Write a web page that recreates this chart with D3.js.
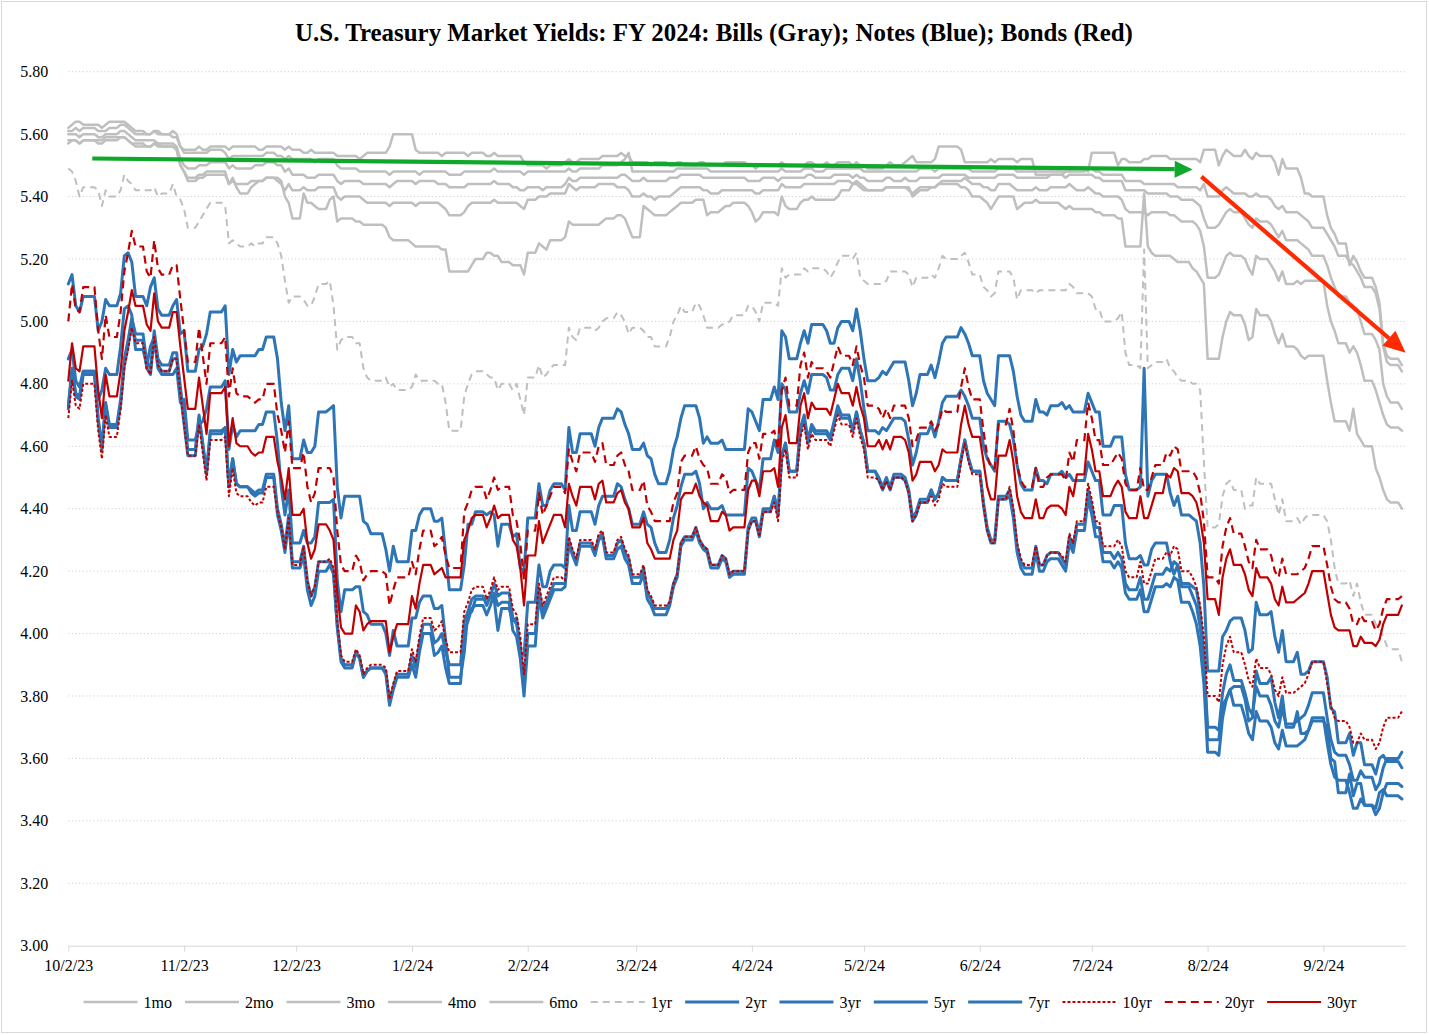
<!DOCTYPE html>
<html><head><meta charset="utf-8">
<script src="https://cdn.jsdelivr.net/npm/d3@7/dist/d3.min.js"></script>
<style>
body{margin:0;background:#fff}
svg{display:block}
text{font-family:"Liberation Serif","Times New Roman",serif;fill:#000}
</style>
</head><body>
<svg id="c" width="1429" height="1035"></svg>
<script>
// ---------------- DATA ----------------
const titleText = "U.S. Treasury Market Yields: FY 2024: Bills (Gray); Notes (Blue); Bonds (Red)";
const firstDay = "2023-10-02", lastDay = "2024-09-23", axisEnd = "2024-09-24";
const holidays = ["2023-10-09","2023-11-10","2023-11-23","2023-12-25","2024-01-01","2024-01-15",
  "2024-02-19","2024-03-29","2024-05-27","2024-06-19","2024-07-04","2024-09-02"];
const xTickDates = ["2023-10-02","2023-11-02","2023-12-02","2024-01-02","2024-02-02","2024-03-02",
  "2024-04-02","2024-05-02","2024-06-02","2024-07-02","2024-08-02","2024-09-02"];
const xTickLabels = ["10/2/23","11/2/23","12/2/23","1/2/24","2/2/24","3/2/24","4/2/24","5/2/24","6/2/24","7/2/24","8/2/24","9/2/24"];
const yTicks = [3.00,3.20,3.40,3.60,3.80,4.00,4.20,4.40,4.60,4.80,5.00,5.20,5.40,5.60,5.80];
const seriesNames = ["1mo","2mo","3mo","4mo","6mo","1yr","2yr","3yr","5yr","7yr","10yr","20yr","30yr"];

// daily yields (%), one value per trading day, grouped by week
const y1mo = [5.62,5.63,5.64,5.64,5.63, 5.63,5.62,5.63,5.64, 5.64,5.64,5.63,5.62,5.61, 5.60,5.60,5.61,5.61,5.60, 5.61,5.60,5.56,5.55,5.55,
 5.56,5.55,5.55,5.56, 5.56,5.55,5.56,5.56,5.56, 5.56,5.56,5.55,5.56, 5.56,5.56,5.55,5.56,5.55,
 5.54,5.54,5.55,5.54,5.54, 5.54,5.54,5.53,5.53,5.53, 5.53,5.52,5.53,5.54,5.54, 5.54,5.56,5.60,5.60,
 5.60,5.55,5.54,5.54, 5.54,5.54,5.53,5.54,5.54, 5.54,5.53,5.54,5.54, 5.53,5.53,5.54,5.53,5.53, 5.53,5.53,5.53,5.51,5.50,
 5.50,5.50,5.49,5.50,5.50, 5.51,5.52,5.51,5.51,5.52, 5.52,5.52,5.53,5.53, 5.53,5.54,5.53,5.53,5.51,
 5.51,5.51,5.50,5.51,5.51, 5.50,5.50,5.51,5.51,5.50, 5.50,5.51,5.51,5.50,5.50, 5.50,5.51,5.51,5.51,
 5.50,5.50,5.49,5.50,5.50, 5.50,5.50,5.51,5.50,5.50, 5.50,5.50,5.51,5.51,5.50, 5.51,5.50,5.50,5.51,5.51, 5.50,5.51,5.50,5.50,5.49,
 5.49,5.49,5.50,5.51,5.50, 5.51,5.52,5.53,5.51,5.51, 5.51,5.52,5.56,5.56,5.56, 5.55,5.51,5.51,5.51,
 5.51,5.51,5.52,5.51,5.52, 5.52,5.52,5.51,5.52,5.52, 5.47,5.47,5.47,5.47, 5.47,5.48,5.48,5.49,5.49,
 5.48,5.54,5.54,5.54, 5.54,5.50,5.52,5.52,5.51, 5.51,5.52,5.52,5.53,5.53, 5.53,5.52,5.52,5.52,5.52, 5.52,5.52,5.51,5.55,5.55,
 5.50,5.53,5.55,5.54,5.53, 5.55,5.53,5.52,5.54,5.53, 5.53,5.51,5.47,5.52,5.49, 5.49,5.46,5.41,5.41,5.40,
 5.34,5.30,5.28,5.25, 5.18,5.21,5.19,5.16,5.14, 5.11,5.06,4.93,4.89,4.88, 4.86];
const y2mo = [5.61,5.61,5.62,5.61,5.62, 5.61,5.61,5.61,5.62, 5.63,5.63,5.62,5.61,5.60, 5.60,5.60,5.61,5.60,5.60, 5.59,5.59,5.56,5.54,5.54,
 5.54,5.54,5.54,5.55, 5.54,5.52,5.53,5.53,5.53, 5.53,5.53,5.53,5.54, 5.53,5.53,5.52,5.53,5.52,
 5.52,5.52,5.52,5.51,5.52, 5.52,5.52,5.50,5.49,5.49, 5.49,5.48,5.48,5.48,5.48, 5.48,5.47,5.48,5.48,
 5.48,5.48,5.47,5.48, 5.48,5.48,5.48,5.48,5.47, 5.48,5.48,5.48,5.48, 5.48,5.48,5.49,5.48,5.48, 5.48,5.48,5.48,5.47,5.48,
 5.48,5.48,5.48,5.48,5.48, 5.48,5.49,5.48,5.48,5.49, 5.49,5.49,5.50,5.50, 5.50,5.51,5.52,5.54,5.48,
 5.48,5.48,5.48,5.48,5.48, 5.48,5.48,5.49,5.49,5.49, 5.49,5.49,5.49,5.49,5.48, 5.48,5.48,5.48,5.48,
 5.48,5.48,5.48,5.48,5.48, 5.48,5.48,5.49,5.48,5.48, 5.48,5.49,5.49,5.49,5.48, 5.49,5.49,5.49,5.49,5.49, 5.49,5.49,5.49,5.48,5.48,
 5.48,5.48,5.48,5.48,5.48, 5.48,5.48,5.48,5.48,5.49, 5.49,5.48,5.49,5.49,5.49, 5.49,5.49,5.49,5.48,
 5.48,5.48,5.48,5.48,5.49, 5.49,5.49,5.48,5.48,5.48, 5.48,5.48,5.48,5.48, 5.48,5.48,5.48,5.48,5.48,
 5.49,5.49,5.48,5.47, 5.47,5.47,5.47,5.45,5.45, 5.45,5.44,5.44,5.44,5.44, 5.44,5.44,5.44,5.43,5.43, 5.43,5.43,5.42,5.44,5.40,
 5.40,5.42,5.43,5.42,5.41, 5.41,5.40,5.40,5.41,5.40, 5.39,5.37,5.36,5.37,5.35, 5.35,5.34,5.33,5.32,5.30,
 5.28,5.26,5.24,5.21, 5.19,5.18,5.16,5.14,5.11, 5.09,5.04,4.92,4.87,4.86, 4.84];
const y3mo = [5.60,5.60,5.60,5.59,5.60, 5.59,5.59,5.60,5.60, 5.61,5.61,5.60,5.59,5.58, 5.58,5.58,5.58,5.57,5.57, 5.57,5.56,5.52,5.50,5.49,
 5.50,5.50,5.50,5.51, 5.51,5.49,5.50,5.49,5.49, 5.49,5.50,5.50,5.51, 5.50,5.50,5.48,5.49,5.47,
 5.47,5.46,5.46,5.46,5.47, 5.47,5.47,5.45,5.44,5.45, 5.45,5.45,5.44,5.44,5.44, 5.44,5.43,5.44,5.45,
 5.45,5.44,5.45,5.45, 5.45,5.44,5.44,5.44,5.43, 5.43,5.44,5.44,5.44, 5.44,5.44,5.45,5.44,5.44, 5.43,5.43,5.42,5.42,5.43,
 5.43,5.42,5.43,5.43,5.43, 5.44,5.46,5.45,5.45,5.46, 5.46,5.46,5.46,5.46, 5.46,5.47,5.47,5.46,5.45,
 5.46,5.45,5.45,5.45,5.45, 5.46,5.46,5.46,5.47,5.47, 5.47,5.47,5.46,5.46,5.46, 5.46,5.46,5.46,5.46,
 5.45,5.45,5.45,5.45,5.46, 5.46,5.45,5.46,5.46,5.46, 5.46,5.46,5.47,5.47,5.46, 5.46,5.46,5.47,5.47,5.47, 5.46,5.47,5.46,5.46,5.45,
 5.45,5.45,5.46,5.46,5.45, 5.46,5.45,5.45,5.45,5.46, 5.46,5.46,5.46,5.47,5.47, 5.47,5.47,5.46,5.46,
 5.46,5.46,5.46,5.46,5.47, 5.47,5.47,5.46,5.46,5.46, 5.46,5.46,5.46,5.47, 5.47,5.46,5.47,5.47,5.47,
 5.47,5.47,5.46,5.45, 5.45,5.45,5.45,5.42,5.42, 5.42,5.42,5.41,5.41,5.41, 5.41,5.40,5.40,5.40,5.39, 5.39,5.38,5.37,5.33,5.30,
 5.31,5.33,5.35,5.36,5.35, 5.33,5.31,5.30,5.33,5.32, 5.31,5.29,5.27,5.29,5.26, 5.26,5.25,5.24,5.23,5.21,
 5.18,5.14,5.11,5.08, 5.06,5.05,5.04,5.00,4.96, 4.94,4.91,4.80,4.76,4.74, 4.72];
const y4mo = [5.58,5.58,5.58,5.57,5.58, 5.57,5.57,5.58,5.58, 5.59,5.59,5.58,5.57,5.57, 5.56,5.56,5.57,5.56,5.56, 5.56,5.55,5.50,5.48,5.46,
 5.47,5.47,5.48,5.48, 5.48,5.44,5.45,5.44,5.44, 5.45,5.45,5.45,5.46, 5.45,5.44,5.42,5.44,5.42,
 5.43,5.42,5.42,5.42,5.43, 5.43,5.43,5.40,5.39,5.40, 5.40,5.40,5.39,5.38,5.38, 5.38,5.37,5.38,5.38,
 5.38,5.37,5.38,5.38, 5.38,5.38,5.37,5.36,5.34, 5.35,5.37,5.38,5.38, 5.38,5.38,5.39,5.38,5.38, 5.38,5.38,5.37,5.36,5.39,
 5.40,5.40,5.40,5.41,5.41, 5.41,5.44,5.43,5.42,5.43, 5.43,5.44,5.44,5.44, 5.43,5.43,5.43,5.42,5.40,
 5.41,5.40,5.40,5.39,5.40, 5.40,5.41,5.42,5.43,5.43, 5.43,5.43,5.42,5.42,5.41, 5.42,5.42,5.42,5.42,
 5.42,5.42,5.41,5.41,5.42, 5.42,5.42,5.44,5.43,5.43, 5.43,5.44,5.44,5.44,5.44, 5.44,5.44,5.44,5.45,5.45, 5.44,5.45,5.44,5.43,5.42,
 5.42,5.42,5.43,5.43,5.43, 5.43,5.42,5.41,5.42,5.43, 5.43,5.43,5.44,5.45,5.45, 5.45,5.46,5.45,5.44,
 5.43,5.43,5.42,5.42,5.44, 5.44,5.43,5.42,5.42,5.42, 5.43,5.42,5.42,5.43, 5.43,5.43,5.44,5.43,5.42,
 5.43,5.42,5.41,5.40, 5.40,5.40,5.39,5.36,5.35, 5.35,5.35,5.34,5.35,5.35, 5.35,5.34,5.34,5.33,5.32, 5.32,5.31,5.29,5.24,5.14,
 5.15,5.18,5.21,5.22,5.21, 5.20,5.17,5.15,5.21,5.20, 5.18,5.16,5.13,5.16,5.12, 5.13,5.12,5.13,5.13,5.13,
 5.05,5.00,4.97,4.93, 4.90,4.92,4.90,4.86,4.81, 4.78,4.74,4.70,4.67,4.66, 4.65];
const y6mo = [5.57,5.58,5.58,5.57,5.58, 5.58,5.58,5.59,5.59, 5.59,5.59,5.58,5.57,5.56, 5.56,5.56,5.57,5.57,5.56, 5.56,5.55,5.50,5.48,5.45,
 5.46,5.46,5.47,5.47, 5.47,5.44,5.46,5.43,5.41, 5.43,5.44,5.45,5.46, 5.46,5.45,5.40,5.38,5.33,
 5.41,5.38,5.38,5.37,5.36, 5.39,5.40,5.32,5.33,5.33, 5.32,5.32,5.31,5.31,5.31, 5.30,5.27,5.26,5.26,
 5.25,5.24,5.24,5.24, 5.24,5.24,5.23,5.23,5.16, 5.16,5.16,5.18,5.20, 5.22,5.22,5.21,5.21,5.19, 5.18,5.18,5.18,5.15,5.22,
 5.25,5.24,5.23,5.26,5.26, 5.27,5.32,5.31,5.31,5.31, 5.31,5.31,5.32,5.33, 5.34,5.34,5.33,5.30,5.27,
 5.37,5.36,5.35,5.34,5.34, 5.35,5.36,5.37,5.38,5.38, 5.39,5.39,5.39,5.34,5.35, 5.36,5.37,5.37,5.38,
 5.37,5.35,5.32,5.33,5.35, 5.35,5.34,5.40,5.37,5.36, 5.38,5.39,5.39,5.40,5.39, 5.39,5.39,5.39,5.40,5.42, 5.44,5.44,5.43,5.42,5.42,
 5.42,5.42,5.43,5.43,5.43, 5.43,5.43,5.40,5.41,5.42, 5.43,5.43,5.44,5.44,5.44, 5.43,5.43,5.42,5.40,
 5.39,5.38,5.36,5.38,5.40, 5.40,5.40,5.36,5.37,5.38, 5.39,5.38,5.38,5.38, 5.37,5.36,5.37,5.36,5.36,
 5.36,5.36,5.35,5.34, 5.34,5.33,5.33,5.24,5.24, 5.24,5.41,5.24,5.22,5.21, 5.21,5.21,5.20,5.19,5.19, 5.17,5.16,5.14,5.12,4.88,
 4.88,4.95,5.00,5.03,5.02, 4.99,4.94,4.95,5.04,5.02, 5.00,4.96,4.93,4.96,4.92, 4.91,4.89,4.88,4.89,4.89,
 4.81,4.74,4.68,4.68, 4.65,4.72,4.64,4.62,4.60, 4.53,4.50,4.46,4.43,4.42, 4.40];
const y1yr = [5.49,5.48,5.45,5.40,5.43, 5.42,5.37,5.42,5.40, 5.42,5.47,5.45,5.44,5.42, 5.42,5.42,5.43,5.40,5.41, 5.44,5.40,5.39,5.36,5.30,
 5.32,5.34,5.36,5.38, 5.37,5.25,5.26,5.25,5.24, 5.25,5.24,5.25,5.27, 5.25,5.21,5.13,5.06,5.08,
 5.07,5.05,5.05,5.08,5.12, 5.13,5.05,4.91,4.94,4.95, 4.93,4.93,4.85,4.82,4.81, 4.82,4.79,4.80,4.78,
 4.79,4.83,4.81,4.81, 4.81,4.80,4.80,4.74,4.65, 4.76,4.80,4.83,4.84, 4.83,4.82,4.82,4.78,4.80, 4.78,4.80,4.75,4.70,4.82,
 4.86,4.82,4.83,4.85,4.86, 4.86,4.98,4.95,4.94,4.98, 4.97,4.98,5.00,5.01, 5.03,5.02,5.00,4.96,4.98,
 4.97,4.95,4.95,4.92,4.92, 4.95,5.00,5.02,5.05,5.03, 5.06,5.05,5.02,4.98,4.98, 4.99,4.99,5.00,5.02,
 5.05,5.05,5.03,5.00,5.06, 5.06,5.05,5.17,5.14,5.15, 5.15,5.17,5.16,5.17,5.17, 5.16,5.14,5.16,5.19,5.21, 5.20,5.22,5.14,5.13,5.12,
 5.12,5.12,5.13,5.16,5.16, 5.16,5.15,5.11,5.14,5.14, 5.15,5.14,5.17,5.21,5.20, 5.21,5.22,5.19,5.15,
 5.11,5.10,5.08,5.09,5.16, 5.16,5.14,5.07,5.10,5.10, 5.09,5.10,5.10,5.10, 5.10,5.10,5.12,5.11,5.09,
 5.09,5.08,5.04,5.00, 5.00,5.01,5.03,4.90,4.86, 4.85,5.23,4.85,4.86,4.87, 4.88,4.85,4.84,4.82,4.81, 4.80,4.80,4.78,4.55,4.34,
 4.35,4.44,4.48,4.49,4.46, 4.40,4.41,4.41,4.50,4.48, 4.48,4.43,4.38,4.43,4.36, 4.37,4.35,4.37,4.38,4.38,
 4.36,4.30,4.21,4.16, 4.17,4.12,4.16,4.10,4.06, 4.03,4.02,3.99,3.96,3.95, 3.91];
const y2yr = [5.12,5.15,5.05,5.03,5.08, 4.97,5.00,5.07,5.05, 5.09,5.21,5.22,5.19,5.08, 5.05,5.11,5.14,5.04,5.02, 5.05,5.07,4.96,4.97,4.84,
 4.91,4.92,4.96,5.03, 5.05,4.83,4.91,4.87,4.89, 4.89,4.89,4.91,4.95, 4.88,4.74,4.65,4.73,4.56,
 4.62,4.58,4.58,4.60,4.71, 4.72,4.73,4.47,4.37,4.44, 4.44,4.44,4.36,4.35,4.32, 4.27,4.20,4.28,4.23,
 4.33,4.33,4.38,4.40, 4.36,4.36,4.37,4.26,4.14, 4.22,4.35,4.35,4.39, 4.38,4.39,4.38,4.28,4.35, 4.31,4.32,4.21,4.20,4.37,
 4.48,4.41,4.41,4.46,4.48, 4.46,4.66,4.58,4.58,4.64, 4.60,4.66,4.69,4.69, 4.72,4.71,4.67,4.64,4.59,
 4.61,4.57,4.56,4.51,4.48, 4.52,4.59,4.63,4.69,4.73, 4.73,4.69,4.61,4.63,4.61, 4.62,4.59,4.59,4.59,
 4.72,4.71,4.68,4.65,4.75, 4.79,4.75,4.97,4.95,4.88, 4.93,4.97,4.93,4.99,4.99, 4.97,4.93,4.93,4.98,5.00, 4.97,5.04,4.97,4.88,4.81,
 4.82,4.84,4.83,4.85,4.87, 4.87,4.81,4.73,4.77,4.83, 4.86,4.82,4.87,4.93,4.95, 4.98,4.96,4.93,4.89,
 4.81,4.77,4.75,4.73,4.89, 4.89,4.84,4.76,4.70,4.68, 4.75,4.71,4.70,4.73, 4.74,4.72,4.73,4.71,4.71,
 4.77,4.74,4.71,4.60, 4.63,4.63,4.63,4.51,4.46, 4.47,4.85,4.44,4.49,4.51, 4.51,4.45,4.41,4.44,4.38, 4.37,4.36,4.29,4.15,3.88,
 3.88,3.99,4.01,4.04,4.05, 4.01,3.94,3.95,4.10,4.06, 4.07,3.99,3.94,4.01,3.91, 3.94,3.87,3.87,3.88,3.91,
 3.86,3.76,3.75,3.65, 3.68,3.61,3.65,3.65,3.58, 3.55,3.60,3.61,3.59,3.59, 3.57];
const y3yr = [4.88,4.91,4.81,4.79,4.84, 4.75,4.78,4.85,4.83, 4.92,5.04,5.05,5.02,4.91, 4.86,4.92,4.95,4.85,4.83, 4.83,4.85,4.74,4.75,4.62,
 4.67,4.68,4.72,4.79, 4.81,4.59,4.67,4.63,4.65, 4.65,4.65,4.67,4.71, 4.61,4.47,4.38,4.46,4.29,
 4.33,4.29,4.29,4.31,4.42, 4.42,4.43,4.17,4.07,4.14, 4.15,4.15,4.07,4.06,4.03, 4.00,3.93,4.01,3.96,
 4.05,4.05,4.10,4.12, 4.08,4.08,4.09,3.98,3.86, 3.94,4.07,4.07,4.11, 4.11,4.12,4.11,4.01,4.08, 4.04,4.05,3.94,3.93,4.10,
 4.22,4.15,4.15,4.20,4.22, 4.21,4.41,4.33,4.33,4.39, 4.35,4.41,4.44,4.44, 4.48,4.47,4.43,4.40,4.35,
 4.39,4.35,4.34,4.29,4.26, 4.30,4.37,4.41,4.47,4.51, 4.52,4.48,4.40,4.42,4.40, 4.41,4.38,4.38,4.38,
 4.53,4.52,4.49,4.46,4.56, 4.62,4.58,4.80,4.78,4.71, 4.77,4.81,4.77,4.83,4.83, 4.82,4.78,4.78,4.83,4.85, 4.81,4.88,4.81,4.72,4.65,
 4.64,4.66,4.65,4.67,4.69, 4.68,4.62,4.54,4.58,4.64, 4.67,4.63,4.68,4.74,4.76, 4.78,4.76,4.73,4.69,
 4.60,4.56,4.54,4.52,4.68, 4.67,4.62,4.54,4.48,4.46, 4.53,4.49,4.48,4.51, 4.52,4.50,4.51,4.49,4.49,
 4.55,4.52,4.49,4.38, 4.41,4.41,4.41,4.29,4.24, 4.25,4.22,4.22,4.27,4.29, 4.29,4.23,4.19,4.22,4.16, 4.15,4.14,4.07,3.93,3.66,
 3.66,3.77,3.79,3.82,3.83, 3.79,3.72,3.73,3.88,3.84, 3.86,3.78,3.73,3.80,3.70, 3.75,3.68,3.68,3.69,3.72,
 3.70,3.60,3.59,3.49, 3.55,3.48,3.52,3.52,3.45, 3.44,3.49,3.50,3.48,3.48, 3.47];
const y5yr = [4.72,4.84,4.76,4.75,4.83, 4.68,4.59,4.73,4.66, 4.73,4.86,4.92,4.99,4.94, 4.85,4.83,4.95,4.86,4.84, 4.88,4.88,4.77,4.67,4.57,
 4.69,4.60,4.51,4.64, 4.66,4.47,4.56,4.48,4.47, 4.45,4.44,4.45,4.50, 4.38,4.33,4.26,4.36,4.21,
 4.25,4.14,4.09,4.12,4.20, 4.22,4.19,4.02,3.91,3.89, 3.94,3.92,3.86,3.88,3.89, 3.87,3.77,3.82,3.86,
 3.90,3.86,3.94,4.00, 3.93,3.94,3.96,3.89,3.84, 4.01,4.04,4.08,4.09, 4.06,4.09,4.13,4.09,4.10, 4.01,3.99,3.92,3.80,3.96,
 4.12,4.05,4.08,4.11,4.14, 4.15,4.29,4.25,4.22,4.28, 4.25,4.30,4.31,4.24, 4.27,4.28,4.24,4.22,4.16,
 4.19,4.11,4.09,4.06,4.06, 4.09,4.15,4.18,4.28,4.30, 4.33,4.29,4.27,4.26,4.21, 4.24,4.23,4.18,4.19,
 4.33,4.36,4.36,4.31,4.39, 4.44,4.38,4.57,4.61,4.52, 4.66,4.70,4.62,4.67,4.65, 4.65,4.63,4.68,4.73,4.70, 4.65,4.71,4.65,4.61,4.52,
 4.49,4.46,4.49,4.46,4.50, 4.49,4.45,4.36,4.38,4.42, 4.46,4.43,4.45,4.50,4.49, 4.56,4.62,4.56,4.52,
 4.41,4.33,4.29,4.29,4.43, 4.44,4.37,4.26,4.21,4.19, 4.26,4.20,4.23,4.24, 4.22,4.20,4.29,4.26,4.33,
 4.43,4.38,4.31,4.23, 4.21,4.23,4.21,4.13,4.11, 4.14,4.07,4.07,4.11,4.15, 4.16,4.15,4.18,4.17,4.10, 4.07,4.03,3.96,3.84,3.62,
 3.61,3.73,3.79,3.82,3.77, 3.73,3.68,3.66,3.75,3.72, 3.70,3.65,3.63,3.69,3.64, 3.64,3.65,3.66,3.69,3.73,
 3.65,3.58,3.54,3.53, 3.49,3.44,3.44,3.47,3.45, 3.42,3.44,3.49,3.52,3.52, 3.51];
const y7yr = [4.73,4.85,4.77,4.76,4.84, 4.69,4.60,4.74,4.67, 4.75,4.88,4.94,5.01,4.96, 4.87,4.85,4.97,4.88,4.86, 4.90,4.90,4.79,4.69,4.59,
 4.70,4.61,4.52,4.65, 4.66,4.47,4.56,4.48,4.47, 4.46,4.45,4.46,4.51, 4.40,4.35,4.28,4.38,4.23,
 4.28,4.17,4.12,4.15,4.23, 4.23,4.20,4.03,3.92,3.90, 3.94,3.92,3.86,3.88,3.89, 3.88,3.78,3.83,3.87,
 3.93,3.89,3.97,4.03, 3.97,3.98,4.00,3.94,3.90, 4.04,4.07,4.11,4.12, 4.09,4.12,4.16,4.12,4.13, 4.05,4.03,3.96,3.84,4.00,
 4.14,4.07,4.10,4.13,4.16, 4.16,4.30,4.26,4.23,4.29, 4.26,4.31,4.32,4.25, 4.29,4.30,4.26,4.24,4.18,
 4.21,4.13,4.11,4.08,4.08, 4.10,4.16,4.19,4.29,4.31, 4.34,4.30,4.28,4.27,4.22, 4.25,4.24,4.19,4.20,
 4.34,4.37,4.37,4.32,4.40, 4.44,4.38,4.57,4.61,4.52, 4.65,4.69,4.61,4.66,4.64, 4.64,4.62,4.67,4.72,4.69, 4.65,4.71,4.65,4.61,4.52,
 4.50,4.47,4.50,4.47,4.51, 4.50,4.46,4.37,4.39,4.43, 4.46,4.43,4.45,4.50,4.49, 4.56,4.62,4.56,4.52,
 4.42,4.34,4.30,4.30,4.44, 4.46,4.39,4.28,4.23,4.21, 4.28,4.22,4.25,4.26, 4.24,4.22,4.31,4.28,4.35,
 4.46,4.41,4.34,4.26, 4.24,4.26,4.24,4.16,4.14, 4.18,4.11,4.11,4.15,4.19, 4.21,4.20,4.23,4.22,4.15, 4.12,4.09,4.02,3.91,3.70,
 3.69,3.81,3.87,3.90,3.85, 3.81,3.76,3.74,3.83,3.80, 3.77,3.72,3.70,3.76,3.71, 3.72,3.73,3.74,3.77,3.81,
 3.73,3.66,3.62,3.61, 3.58,3.53,3.53,3.56,3.54, 3.50,3.52,3.57,3.60,3.60, 3.62];
const y10yr = [4.69,4.81,4.73,4.72,4.80, 4.65,4.56,4.70,4.63, 4.72,4.85,4.91,4.98,4.93, 4.85,4.83,4.95,4.86,4.84, 4.88,4.88,4.77,4.67,4.57,
 4.67,4.58,4.49,4.62, 4.63,4.44,4.53,4.45,4.44, 4.42,4.41,4.42,4.47, 4.39,4.34,4.27,4.37,4.22,
 4.28,4.17,4.12,4.15,4.23, 4.24,4.21,4.04,3.93,3.91, 3.95,3.93,3.87,3.89,3.90, 3.89,3.79,3.84,3.88,
 3.95,3.91,3.99,4.05, 4.01,4.02,4.04,3.98,3.94, 4.07,4.10,4.14,4.15, 4.11,4.14,4.18,4.14,4.15, 4.08,4.06,3.99,3.87,4.03,
 4.16,4.09,4.12,4.15,4.18, 4.17,4.31,4.27,4.24,4.30, 4.27,4.32,4.33,4.26, 4.30,4.31,4.27,4.25,4.19,
 4.22,4.14,4.12,4.09,4.09, 4.10,4.16,4.19,4.29,4.31, 4.34,4.30,4.28,4.27,4.22, 4.25,4.24,4.19,4.20,
 4.33,4.36,4.36,4.31,4.39, 4.42,4.36,4.55,4.59,4.50, 4.63,4.67,4.59,4.64,4.62, 4.62,4.60,4.65,4.70,4.67, 4.63,4.69,4.63,4.59,4.50,
 4.49,4.46,4.49,4.46,4.50, 4.49,4.45,4.36,4.38,4.42, 4.44,4.41,4.43,4.48,4.47, 4.55,4.61,4.55,4.51,
 4.41,4.33,4.29,4.29,4.43, 4.47,4.40,4.29,4.24,4.22, 4.28,4.22,4.25,4.26, 4.25,4.23,4.32,4.29,4.36,
 4.48,4.43,4.36,4.28, 4.28,4.30,4.28,4.20,4.18, 4.23,4.16,4.16,4.20,4.24, 4.26,4.25,4.28,4.27,4.20, 4.18,4.15,4.09,3.99,3.80,
 3.78,3.90,3.96,3.99,3.94, 3.90,3.85,3.83,3.92,3.89, 3.87,3.82,3.80,3.86,3.81, 3.82,3.83,3.84,3.87,3.91,
 3.84,3.77,3.73,3.72, 3.70,3.65,3.65,3.68,3.66, 3.63,3.65,3.70,3.73,3.73, 3.75];
const y20yr = [5.00,5.12,5.04,5.03,5.11, 4.97,4.88,5.02,4.95, 5.03,5.16,5.22,5.29,5.24, 5.16,5.14,5.26,5.17,5.15, 5.18,5.18,5.07,4.97,4.87,
 4.98,4.89,4.80,4.93, 4.95,4.76,4.85,4.77,4.76, 4.75,4.74,4.75,4.80, 4.70,4.65,4.58,4.68,4.53,
 4.58,4.47,4.42,4.45,4.53, 4.53,4.50,4.33,4.22,4.20, 4.25,4.23,4.17,4.19,4.20, 4.19,4.09,4.14,4.18,
 4.23,4.19,4.27,4.33, 4.28,4.29,4.31,4.25,4.21, 4.39,4.42,4.46,4.47, 4.43,4.46,4.50,4.46,4.47, 4.38,4.36,4.29,4.17,4.33,
 4.45,4.38,4.41,4.44,4.47, 4.45,4.59,4.55,4.52,4.58, 4.55,4.60,4.61,4.54, 4.57,4.58,4.54,4.52,4.46,
 4.49,4.41,4.39,4.36,4.36, 4.36,4.42,4.45,4.55,4.57, 4.60,4.56,4.54,4.53,4.48, 4.51,4.50,4.45,4.46,
 4.58,4.61,4.61,4.56,4.64, 4.65,4.59,4.78,4.82,4.73, 4.86,4.90,4.82,4.87,4.85, 4.84,4.82,4.87,4.92,4.89, 4.86,4.92,4.86,4.82,4.73,
 4.72,4.69,4.72,4.69,4.73, 4.73,4.69,4.60,4.62,4.66, 4.68,4.65,4.67,4.72,4.71, 4.79,4.85,4.79,4.75,
 4.65,4.57,4.53,4.53,4.67, 4.72,4.65,4.54,4.49,4.47, 4.53,4.47,4.50,4.51, 4.51,4.49,4.58,4.55,4.62,
 4.74,4.69,4.62,4.54, 4.56,4.58,4.56,4.48,4.46, 4.53,4.46,4.46,4.50,4.54, 4.58,4.57,4.60,4.59,4.52, 4.52,4.50,4.45,4.36,4.18,
 4.16,4.28,4.34,4.37,4.32, 4.28,4.23,4.21,4.30,4.27, 4.25,4.20,4.18,4.24,4.19, 4.19,4.20,4.21,4.24,4.28,
 4.22,4.15,4.11,4.10, 4.08,4.03,4.03,4.06,4.04, 4.01,4.03,4.08,4.11,4.11, 4.12];
const y30yr = [4.81,4.93,4.85,4.84,4.92, 4.78,4.69,4.83,4.76, 4.84,4.97,5.03,5.10,5.05, 4.99,4.97,5.09,5.00,4.98, 5.03,5.03,4.92,4.82,4.72,
 4.82,4.73,4.64,4.77, 4.79,4.60,4.69,4.61,4.60, 4.58,4.57,4.58,4.63, 4.55,4.50,4.43,4.53,4.38,
 4.40,4.29,4.24,4.27,4.35, 4.33,4.30,4.13,4.02,4.00, 4.09,4.07,4.01,4.03,4.04, 4.04,3.94,3.99,4.03,
 4.12,4.08,4.16,4.22, 4.19,4.20,4.21,4.18,4.18, 4.30,4.33,4.37,4.38, 4.34,4.37,4.41,4.37,4.38, 4.30,4.28,4.21,4.09,4.25,
 4.36,4.29,4.32,4.35,4.38, 4.34,4.48,4.44,4.41,4.47, 4.43,4.48,4.49,4.42, 4.45,4.46,4.42,4.40,4.34,
 4.37,4.29,4.27,4.24,4.24, 4.24,4.30,4.33,4.43,4.45, 4.48,4.44,4.42,4.41,4.36, 4.39,4.38,4.33,4.34,
 4.46,4.49,4.49,4.44,4.52, 4.53,4.47,4.66,4.70,4.61, 4.73,4.77,4.69,4.74,4.72, 4.72,4.70,4.75,4.80,4.77, 4.73,4.79,4.73,4.69,4.60,
 4.62,4.59,4.62,4.59,4.63, 4.62,4.58,4.49,4.51,4.55, 4.55,4.52,4.54,4.59,4.58, 4.67,4.73,4.67,4.63,
 4.55,4.47,4.43,4.43,4.57, 4.62,4.55,4.44,4.39,4.37, 4.43,4.37,4.40,4.41, 4.40,4.38,4.47,4.44,4.51,
 4.64,4.59,4.52,4.44, 4.47,4.49,4.47,4.39,4.37, 4.44,4.37,4.37,4.41,4.45, 4.51,4.50,4.53,4.52,4.45, 4.44,4.42,4.37,4.29,4.11,
 4.06,4.18,4.24,4.27,4.22, 4.19,4.14,4.12,4.21,4.18, 4.16,4.11,4.09,4.15,4.10, 4.11,4.12,4.13,4.16,4.20,
 4.13,4.06,4.02,4.01, 4.01,3.96,3.96,3.99,3.97, 3.96,3.98,4.03,4.06,4.06, 4.09];

// annotation arrows, in data coordinates [date, yield]
const greenArrow = [["2023-10-08T10:00:00Z", 5.522], ["2024-07-29T00:00:00Z", 5.487]];
const redArrow = [["2024-07-31T08:00:00Z", 5.464], ["2024-09-24T00:00:00Z", 4.90]];

// ---------------- STYLES ----------------
const GRAY = "#bfbfbf", BLUE = "#2e75b6", RED = "#c00000";
const seriesValues = [y1mo,y2mo,y3mo,y4mo,y6mo,y1yr,y2yr,y3yr,y5yr,y7yr,y10yr,y20yr,y30yr];
const seriesStyle = [
  {c:GRAY,w:2.5,d:null},{c:GRAY,w:2.5,d:null},{c:GRAY,w:2.5,d:null},{c:GRAY,w:2.5,d:null},{c:GRAY,w:2.5,d:null},
  {c:GRAY,w:2,d:"7,5"},
  {c:BLUE,w:3,d:null},{c:BLUE,w:3,d:null},{c:BLUE,w:3,d:null},{c:BLUE,w:3,d:null},
  {c:RED,w:2,d:"3,2"},{c:RED,w:2.2,d:"8,5"},{c:RED,w:2.2,d:null}
];

// ---------------- BUILD ----------------
const DAY = 864e5;
const P = s => new Date(s.length === 10 ? s + "T00:00:00Z" : s);
const tradingDays = [];
for (let t = P(firstDay).getTime(); t <= P(lastDay).getTime(); t += DAY) {
  const d = new Date(t), w = d.getUTCDay();
  if (w === 0 || w === 6) continue;
  if (holidays.includes(d.toISOString().slice(0,10))) continue;
  tradingDays.push(d);
}

const svg = d3.select("#c");
const W = 1429, H = 1035;
const x = d3.scaleUtc().domain([P(firstDay), P(axisEnd)]).range([68.3, 1405.6]);
const y = d3.scaleLinear().domain([3.0, 5.8]).range([945.7, 71.7]);

svg.append("rect").attr("x",1.5).attr("y",1.5).attr("width",W-4).attr("height",H-4)
  .attr("fill","#fff").attr("stroke","#d9d9d9").attr("stroke-width",1);

// title
const title = svg.append("text").attr("x",714).attr("y",41).attr("text-anchor","middle")
  .attr("font-weight","bold").attr("font-size",22).text(titleText);
const tw = title.node().getComputedTextLength();
title.attr("font-size", (22*838/tw).toFixed(2));

// gridlines
svg.append("g").selectAll("line").data(yTicks.filter(v => v > 3.0)).join("line")
  .attr("x1", x.range()[0]).attr("x2", x.range()[1])
  .attr("y1", d => y(d)).attr("y2", d => y(d))
  .attr("stroke","#d0d0d0").attr("stroke-width",1).attr("stroke-dasharray","1.2,2.4");

// y axis labels
const ya = svg.append("g").attr("transform",`translate(${x.range()[0]},0)`)
  .call(d3.axisLeft(y).tickValues(yTicks).tickFormat(d3.format(".2f")).tickSize(0).tickPadding(20));
ya.select(".domain").remove();
ya.selectAll("text").attr("font-size",16).attr("font-family","Liberation Serif, Times New Roman, serif").attr("fill","#000");

// x axis
const xa = svg.append("g").attr("transform",`translate(0,${y(3.0)})`)
  .call(d3.axisBottom(x).tickValues(xTickDates.map(P)).tickFormat((d,i) => xTickLabels[i])
    .tickSize(6).tickSizeOuter(0).tickPadding(8));
xa.select(".domain").attr("stroke","#d9d9d9");
xa.selectAll(".tick line").attr("stroke","#d9d9d9");
xa.selectAll("text").attr("font-size",16).attr("font-family","Liberation Serif, Times New Roman, serif").attr("fill","#000");

// lines (values held flat across weekends/holidays as in the calendar-day source)
const line = d3.line().x(p => x(p.t)).y(p => y(p.v)).curve(d3.curveLinear);
const plot = svg.append("g");
seriesValues.forEach((vals, k) => {
  const n = Math.min(vals.length, tradingDays.length);
  const pts = [];
  for (let i = 0; i < n; i++) {
    pts.push({t: tradingDays[i], v: vals[i]});
    if (i < n - 1 && tradingDays[i+1] - tradingDays[i] > DAY)
      pts.push({t: new Date(tradingDays[i+1].getTime() - DAY), v: vals[i]});
  }
  const s = seriesStyle[k];
  plot.append("path").datum(pts).attr("d", line).attr("fill","none")
    .attr("stroke", s.c).attr("stroke-width", s.w)
    .attr("stroke-linejoin","round").attr("stroke-linecap", s.d ? "butt" : "round")
    .attr("stroke-dasharray", s.d);
});

// arrows
function arrow(def, color, width, headL, headW) {
  const x1 = x(P(def[0][0])), y1 = y(def[0][1]), x2 = x(P(def[1][0])), y2 = y(def[1][1]);
  const a = Math.atan2(y2 - y1, x2 - x1);
  const bx = x2 - headL*Math.cos(a), by = y2 - headL*Math.sin(a);
  svg.append("line").attr("x1",x1).attr("y1",y1).attr("x2",bx).attr("y2",by)
    .attr("stroke",color).attr("stroke-width",width);
  const px = -Math.sin(a)*headW/2, py = Math.cos(a)*headW/2;
  svg.append("path").attr("d",`M${x2},${y2}L${bx+px},${by+py}L${bx-px},${by-py}Z`).attr("fill",color);
}
arrow(greenArrow, "#0fa82a", 4.2, 18, 17);
arrow(redArrow, "#ff2a00", 4.2, 22, 20);

// legend
const lg = svg.append("g");
let cx = 0;
const items = [];
seriesNames.forEach((nm, k) => {
  const g = lg.append("g");
  const s = seriesStyle[k];
  g.append("line").attr("x1",cx).attr("x2",cx+54).attr("y1",0).attr("y2",0)
    .attr("stroke",s.c).attr("stroke-width",s.w).attr("stroke-dasharray",s.d);
  const t = g.append("text").attr("x",cx+60).attr("y",5.5).attr("font-size",16).text(nm);
  cx += 60 + t.node().getComputedTextLength() + 13;
});
const totalW = cx - 13;
lg.attr("transform",`translate(${720 - totalW/2},1002)`);
</script>
</body></html>
